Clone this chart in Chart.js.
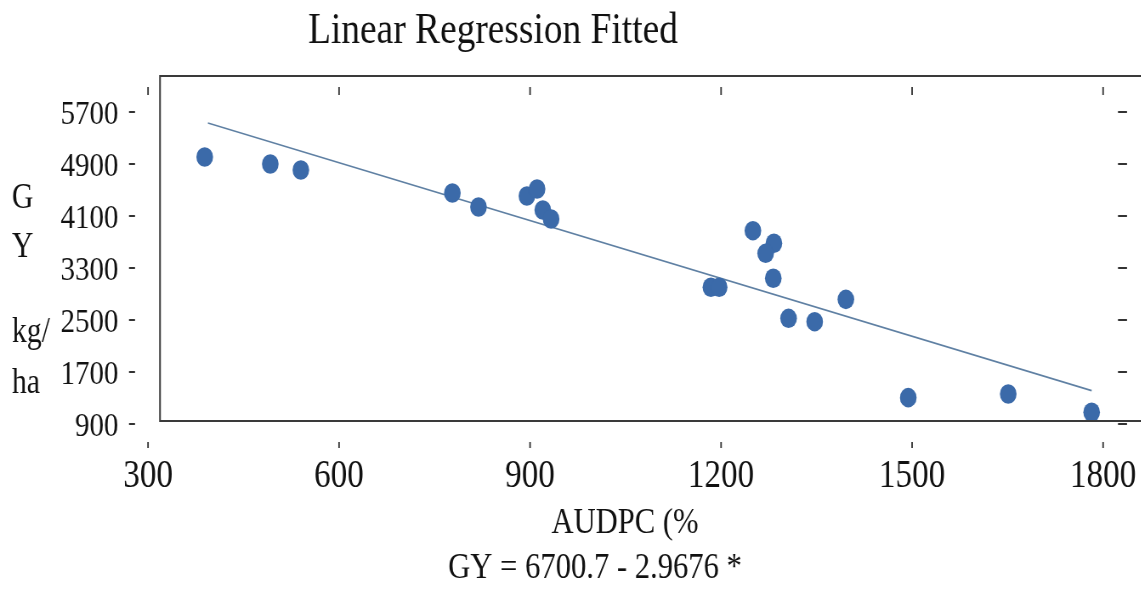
<!DOCTYPE html>
<html>
<head>
<meta charset="utf-8">
<script src="https://cdn.jsdelivr.net/npm/chart.js@4.4.0/dist/chart.umd.min.js"></script>
<style>
html,body{margin:0;padding:0;overflow:hidden;background:#fff;width:1141px;height:590px;}
#c{display:block;transform:scaleX(0.85);transform-origin:0 0;}
</style>
</head>
<body>
<canvas id="c" width="1342" height="590"></canvas>
<script>
// ---- data ----
const audpc = [389, 492, 540, 778, 819, 895, 911, 920, 933, 1250, 1283, 1270, 1282, 1184, 1197, 1306, 1347, 1396, 1494, 1651, 1782];
const grainYield = [5008, 4900, 4808, 4454, 4238, 4408, 4515, 4192, 4054, 3874, 3680, 3526, 3142, 3003, 3003, 2526, 2474, 2818, 1305, 1362, 1080];
const fitX = [394, 1782];
const fitY = [5531, 1413];
const xTicks = [300, 600, 900, 1200, 1500, 1800];
const xTickLabels = ['300', '600', '900', '1200', '1500', '1800'];
const yTicks = [900, 1700, 2500, 3300, 4100, 4900, 5700];
const yTickLabels = ['900', '1700', '2500', '3300', '4100', '4900', '5700'];
const titleText = 'Linear Regression Fitted';
const xTitle = 'AUDPC (%';
const yTitleLines = [['G', 208], ['Y', 257], ['kg/', 342], ['ha', 393]];
const footerText = 'GY = 6700.7 - 2.9676 *';

const S = 0.85; // horizontal compression of the whole figure
const FONT = "'Liberation Serif', 'Times New Roman', serif";
Chart.defaults.font.family = FONT;

const decor = {
  id: 'decor',
  afterDatasetsDraw(chart) {
    const ctx = chart.ctx, a = chart.chartArea;
    const xs = chart.scales.x, ys = chart.scales.y;
    ctx.save();
    ctx.strokeStyle = '#3a3a3a';
    ctx.lineWidth = 2;
    ctx.beginPath();
    ctx.moveTo(chart.width + 2, a.top);
    ctx.lineTo(a.left, a.top);
    ctx.lineTo(a.left, a.bottom);
    ctx.lineTo(chart.width + 2, a.bottom);
    ctx.stroke();
    ctx.strokeStyle = '#333';
    ctx.lineWidth = 2;
    yTicks.forEach(v => {
      const py = ys.getPixelForValue(v);
      ctx.beginPath();
      ctx.moveTo(129 / S, py); ctx.lineTo(135 / S, py);
      ctx.moveTo(1118 / S, py); ctx.lineTo(1127 / S, py);
      ctx.stroke();
    });
    ctx.lineWidth = 1.8;
    xTicks.forEach(v => {
      const px = xs.getPixelForValue(v);
      ctx.beginPath();
      ctx.moveTo(px, 442); ctx.lineTo(px, 448);
      ctx.moveTo(px, 87); ctx.lineTo(px, 95);
      ctx.stroke();
    });
    ctx.restore();
  },
  afterDraw(chart) {
    const ctx = chart.ctx;
    ctx.save();
    ctx.fillStyle = '#111';
    ctx.textBaseline = 'alphabetic';
    ctx.textAlign = 'center';
    ctx.font = '44px ' + FONT;
    ctx.fillText(titleText, 493 / S, 43);
    ctx.font = '36px ' + FONT;
    ctx.fillText(xTitle, 625 / S, 533);
    ctx.fillText(footerText, 595 / S, 578);
    ctx.textAlign = 'left';
    ctx.font = '35px ' + FONT;
    yTitleLines.forEach(([t, y]) => ctx.fillText(t, 12 / S, y));
    ctx.restore();
  }
};

new Chart(document.getElementById('c'), {
  type: 'scatter',
  data: {
    datasets: [
      {
        data: audpc.map((x, i) => ({ x: x, y: grainYield[i] })),
        backgroundColor: '#3b6aa9',
        borderColor: '#3b6aa9',
        borderWidth: 0,
        pointRadius: 9.8,
        pointHoverRadius: 9.8,
        clip: false
      },
      {
        type: 'line',
        data: fitX.map((x, i) => ({ x: x, y: fitY[i] })),
        borderColor: '#5f80a3',
        borderWidth: 1.6,
        pointRadius: 0,
        fill: false,
        showLine: true,
        clip: false
      }
    ]
  },
  options: {
    responsive: false,
    devicePixelRatio: 1,
    animation: false,
    layout: { padding: { left: 0, right: 0, top: 76, bottom: 0 } },
    plugins: { legend: { display: false }, tooltip: { enabled: false }, title: { display: false } },
    scales: {
      x: {
        type: 'linear',
        position: 'bottom',
        min: 318.8,
        max: 1846,
        grid: { display: false, drawTicks: false },
        border: { display: false },
        afterBuildTicks: s => { s.ticks = xTicks.map(v => ({ value: v })); },
        afterFit: s => { s.height = 590 - 421; s.paddingLeft = 0; s.paddingRight = 0; },
        ticks: {
          autoSkip: false,
          maxRotation: 0,
          padding: 32,
          color: '#111',
          font: { size: 39, family: FONT },
          callback: (v, i) => xTickLabels[i]
        }
      },
      y: {
        type: 'linear',
        position: 'left',
        min: 946,
        max: 6254,
        grid: { display: false, drawTicks: false },
        border: { display: false },
        afterBuildTicks: s => { s.ticks = yTicks.map(v => ({ value: v })); },
        afterFit: s => { s.width = 160 / S; s.paddingTop = 0; s.paddingBottom = 0; },
        ticks: {
          autoSkip: false,
          padding: 49,
          labelOffset: 3,
          color: '#111',
          font: { size: 34, family: FONT },
          callback: (v, i) => yTickLabels[i]
        }
      }
    }
  },
  plugins: [decor]
});
</script>
</body>
</html>
